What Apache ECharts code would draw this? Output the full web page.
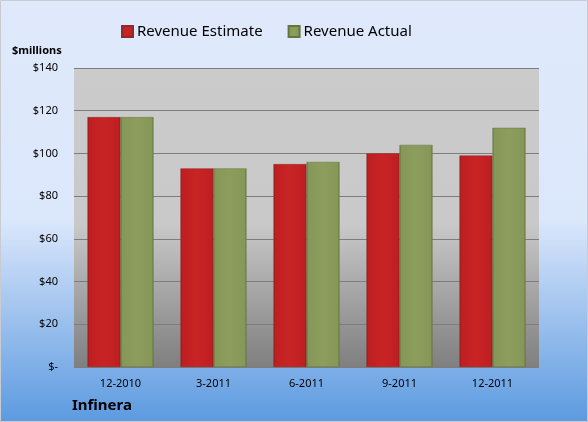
<!DOCTYPE html>
<html><head><meta charset="utf-8">
<script src="https://cdn.jsdelivr.net/npm/echarts@6/dist/echarts.min.js"></script>
<style>html,body{margin:0;padding:0;}#c{width:588px;height:422px;}</style>
</head><body><div id="c"></div>
<script>
const categories = ['12-2010', '3-2011', '6-2011', '9-2011', '12-2011'];
const revenueEstimate = [117, 93, 95, 100, 99];
const revenueActual = [117, 93, 96, 104, 112];
const yTicks = [0, 20, 40, 60, 80, 100, 120, 140];

const chart = echarts.init(document.getElementById('c'));
const F = 'Noto Sans';
function barGrad(light, mid, dark) {
  return new echarts.graphic.LinearGradient(0, 0, 1, 0, [
    {offset: 0, color: dark}, {offset: 0.06, color: mid}, {offset: 0.5, color: light},
    {offset: 0.94, color: mid}, {offset: 1, color: dark}]);
}
chart.setOption({
  backgroundColor: new echarts.graphic.LinearGradient(0, 0, 0, 1, [
    {offset: 0, color: '#dfe9fb'}, {offset: 0.52, color: '#dbe7fb'}, {offset: 1, color: '#5c9ae0'}]),
  animation: false,
  graphic: [
    {type: 'rect', shape: {x: 0.5, y: 0.5, width: 587, height: 421}, style: {fill: 'none', stroke: '#c8ccd2', lineWidth: 1}, z: 100},
    {type: 'text', left: 12, top: 45, style: {text: '$millions', font: 'bold 11px "Noto Sans"', fill: '#000'}},
    {type: 'text', left: 72, top: 398, style: {text: 'Infinera', font: 'bold 15px "Noto Sans"', fill: '#000'}}
  ],
  legend: {
    top: 19, left: 116, itemWidth: 11, itemHeight: 11, itemGap: 25,
    icon: 'rect',
    textStyle: {fontFamily: F, fontSize: 15, color: '#000', padding: [0, 0, 0, -1]},
    data: ['Revenue Estimate', 'Revenue Actual']
  },
  grid: {
    left: 74, right: 49, top: 68, bottom: 55, show: true, borderWidth: 0,
    backgroundColor: new echarts.graphic.LinearGradient(0, 0, 0, 1, [
      {offset: 0, color: '#cbcbcb'}, {offset: 0.52, color: '#c9c9c9'}, {offset: 1, color: '#7f7f7f'}])
  },
  xAxis: {
    type: 'category', data: categories,
    axisLine: {show: false}, axisTick: {show: false},
    axisLabel: {fontFamily: F, fontSize: 11, color: '#000', margin: 11}
  },
  yAxis: {
    type: 'value', min: 0, max: 140, interval: 20,
    axisLine: {show: false}, axisTick: {show: false},
    splitLine: {lineStyle: {color: '#7d7d7d', width: 1}},
    axisLabel: {fontFamily: F, fontSize: 11, color: '#000', margin: 16,
      formatter: v => v === 0 ? '$-' : '$' + v}
  },
  series: [
    {name: 'Revenue Estimate', type: 'bar', data: revenueEstimate, barGap: '0%', barCategoryGap: '29%',
      itemStyle: {color: barGrad('#c82426', '#bf1f21', '#9a1a1b'), borderColor: '#8f2a2a', borderWidth: 0.5}},
    {name: 'Revenue Actual', type: 'bar', data: revenueActual, barGap: '0%', barCategoryGap: '29%',
      itemStyle: {color: barGrad('#8c9d5e', '#869857', '#6a7a44'), borderColor: '#66753f', borderWidth: 0.5}}
  ]
});
</script></body></html>
